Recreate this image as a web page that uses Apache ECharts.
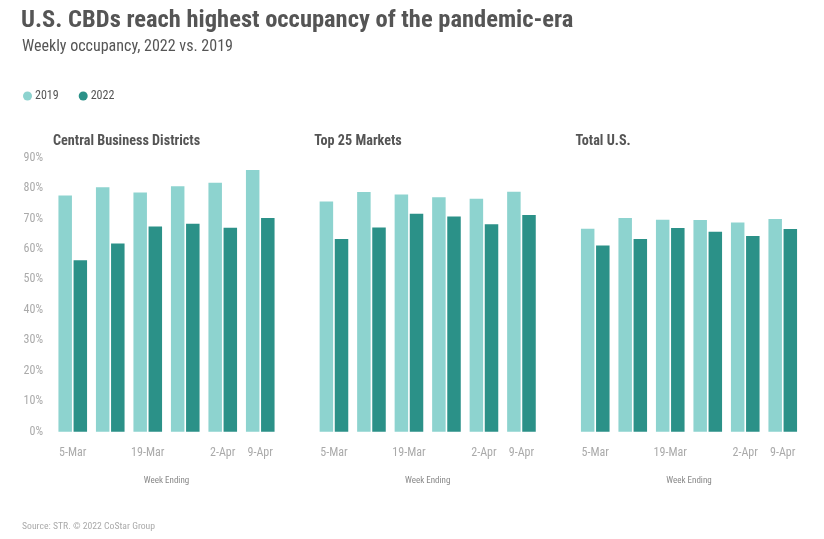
<!DOCTYPE html>
<html>
<head>
<meta charset="utf-8">
<script src="https://cdn.jsdelivr.net/npm/echarts@6/dist/echarts.min.js"></script>
<style>
html,body{margin:0;padding:0;background:#fff;}
#chart{width:824px;height:539px;}
</style>
</head>
<body>
<div id="chart"></div>
<script>
const weeks = ['5-Mar','12-Mar','19-Mar','26-Mar','2-Apr','9-Apr'];
const yTicks = [0,10,20,30,40,50,60,70,80,90];
const panels = ['Central Business Districts','Top 25 Markets','Total U.S.'];
const cbd2019 = [77.6, 80.3, 78.6, 80.6, 81.8, 86.0];
const cbd2022 = [56.3, 61.8, 67.4, 68.3, 67.0, 70.2];
const top2019 = [75.6, 78.7, 77.9, 77.0, 76.5, 78.8];
const top2022 = [63.3, 67.1, 71.6, 70.7, 68.1, 71.2];
const us2019 = [66.7, 70.2, 69.6, 69.5, 68.7, 69.9];
const us2022 = [61.2, 63.3, 66.9, 65.7, 64.3, 66.6];
const shownLabels = ['5-Mar','19-Mar','2-Apr','9-Apr'];

const C19 = '#8dd3cf', C22 = '#2b9188';
const FONT = "'Roboto Condensed', 'Liberation Sans Narrow', Roboto, sans-serif";
const chart = echarts.init(document.getElementById('chart'));
const gridLefts = [54, 315.2, 576.5];
const seriesData = [[cbd2019, cbd2022],[top2019, top2022],[us2019, us2022]];

const grids = gridLefts.map(l => ({left: l, width: 225, top: 157.7, height: 274}));
const xAxes = gridLefts.map((l, i) => ({
  type: 'category', gridIndex: i, data: weeks,
  axisLine: {show: false}, axisTick: {show: false},
  axisLabel: {color: '#aaa', fontSize: 12, fontFamily: FONT, margin: 15,
    interval: (idx, val) => shownLabels.indexOf(val) >= 0},
  name: 'Week Ending', nameLocation: 'middle', nameGap: 45,
  nameTextStyle: {color: '#888', fontSize: 9, fontFamily: FONT}
}));
const yAxes = gridLefts.map((l, i) => ({
  type: 'value', gridIndex: i, min: yTicks[0], max: yTicks[yTicks.length-1], interval: 10,
  axisLine: {show: false}, axisTick: {show: false}, splitLine: {show: false},
  axisLabel: {show: i === 0, color: '#aaa', fontSize: 12, fontFamily: FONT, margin: 11,
    formatter: '{value}%'}
}));
const series = [];
seriesData.forEach((pair, i) => {
  series.push({name: '2019', type: 'bar', xAxisIndex: i, yAxisIndex: i, data: pair[0],
    barWidth: 13.5, barGap: '12%', itemStyle: {color: C19}});
  series.push({name: '2022', type: 'bar', xAxisIndex: i, yAxisIndex: i, data: pair[1],
    barWidth: 13.5, barGap: '12%', itemStyle: {color: C22}});
});
const titles = [
  {text: 'U.S. CBDs reach highest occupancy of the pandemic-era', left: 16, top: 3,
   textStyle: {color: '#555', fontSize: 24.5, fontWeight: 'bold', fontFamily: FONT}},
  {text: 'Weekly occupancy, 2022 vs. 2019', left: 17, top: 34,
   textStyle: {color: '#555', fontSize: 16, fontWeight: 'normal', fontFamily: FONT}},
  {text: 'Source: STR. © 2022 CoStar Group', left: 17, top: 517,
   textStyle: {color: '#aaa', fontSize: 9.7, fontWeight: 'normal', fontFamily: FONT}}
];
panels.forEach((p, i) => titles.push({text: p, left: gridLefts[i] - 6, top: 129,
  textStyle: {color: '#555', fontSize: 14.2, fontWeight: 'bold', fontFamily: FONT}}));

chart.setOption({
  animation: false,
  title: titles,
  legend: {left: 18, top: 85, icon: 'circle', itemWidth: 9, itemHeight: 9, itemGap: 20,
    data: ['2019','2022'],
    textStyle: {color: '#555', fontSize: 12, fontFamily: FONT, padding: [0,0,0,-2]}},
  grid: grids, xAxis: xAxes, yAxis: yAxes, series: series
});
</script>
</body>
</html>
